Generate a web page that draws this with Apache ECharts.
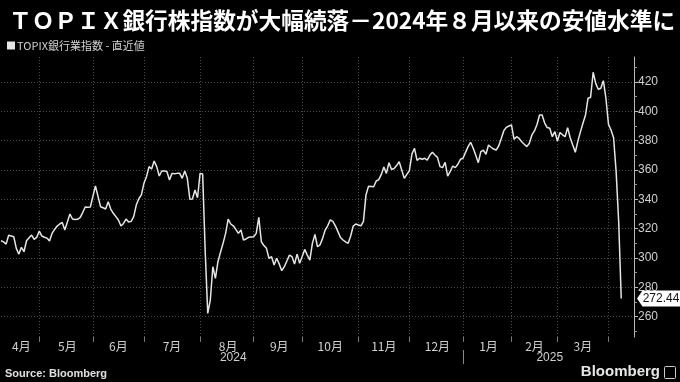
<!DOCTYPE html>
<html>
<head>
<meta charset="utf-8">
<script src="https://cdn.jsdelivr.net/npm/echarts@6/dist/echarts.min.js"></script>
<style>
html,body{margin:0;padding:0;background:#000;}
#c{width:680px;height:382px;}
</style>
</head>
<body>
<div id="c"></div>
<script>
// ---- data ----
const titleText = 'ＴＯＰＩＸ銀行株指数が大幅続落－2024年８月以来の安値水準に';
const seriesName = 'TOPIX銀行業指数 - 直近値';
const firstDay = '2024-04-08';
const lastDay = '2025-04-14';
const holidays = ['2024-04-29','2024-05-03','2024-05-06','2024-07-15','2024-08-12','2024-09-16','2024-09-23',
  '2024-10-14','2024-11-04','2024-12-31','2025-01-01','2025-01-02','2025-01-03','2025-01-13','2025-02-11',
  '2025-02-24','2025-03-20'];
const values = [
 311.8,311.0,309.5,315.5,315.0,314.5,306.6,302.7,307.3,304.3,
 311.8,313.8,315.7,312.7,314.1,318.4,315.0,314.2,313.6,311.6,
 316.8,319.5,321.8,323.2,324.3,319.1,324.5,330.0,326.6,326.2,
 326.4,327.5,331.0,334.8,334.6,334.8,342.0,349.1,342.0,335.0,
 334.3,333.4,338.4,333.4,330.5,328.2,325.9,321.8,323.6,326.6,
 324.5,325.0,328.2,336.1,340.4,343.0,350.9,355.4,362.3,360.7,
 366.1,362.3,355.9,359.3,359.3,359.0,353.2,357.7,357.5,357.7,
 357.7,354.3,359.3,354.3,340.0,340.2,346.4,341.1,357.7,357.3,
 305.0,262.3,271.4,294.1,286.2,297.5,304.0,310.0,316.8,326.6,
 323.2,322.0,319.5,316.8,319.1,312.3,313.0,314.1,314.3,314.5,
 316.8,327.7,311.1,308.5,306.6,299.8,300.9,295.2,299.8,296.0,
 291.4,294.1,298.0,302.0,300.9,295.9,302.7,296.4,301.0,305.9,
 302.0,298.6,310.0,316.1,307.7,309.0,313.4,319.1,322.0,326.0,
 325.0,322.0,318.0,314.0,312.3,311.0,310.0,315.0,321.8,323.2,
 322.5,322.0,325.0,343.0,349.0,348.8,348.6,352.5,353.4,357.0,
 362.0,357.7,365.0,360.3,361.0,363.0,365.7,360.0,354.3,357.0,
 359.5,371.0,374.8,366.5,368.0,367.3,368.0,366.8,370.0,372.1,
 370.2,368.6,362.3,361.6,365.2,355.9,359.0,362.7,361.6,363.9,
 367.3,368.0,372.0,375.9,378.9,374.8,370.0,365.0,372.5,373.6,
 370.7,377.0,375.5,374.3,373.6,376.4,381.5,386.8,389.1,390.0,
 390.7,380.9,382.7,381.5,379.3,377.5,375.9,378.2,383.9,386.6,
 391.0,397.5,397.5,392.0,388.9,388.4,382.7,386.1,379.8,385.5,
 384.0,382.7,388.9,382.0,377.0,372.1,379.5,386.0,391.9,397.5,
 408.9,409.6,426.6,419.0,415.0,415.7,420.9,408.9,391.2,387.3,
 382.0,358.9,324.8,272.44
];
const yLabels = [260,280,300,320,340,360,380,400,420];
const yMinorTicks = [250,270,290,310,330,350,370,390,410,430];
const yMin = 246.2, yMax = 437.0;
const sourceText = 'Source: Bloomberg';
const brandText = 'Bloomberg';

// ---- build categories (trading days) ----
function fmt(d){const m=d.getMonth()+1, dd=d.getDate();return d.getFullYear()+'-'+(m<10?'0':'')+m+'-'+(dd<10?'0':'')+dd;}
const categories = [];
(function(){
  const d = new Date(firstDay+'T00:00:00');
  const end = new Date(lastDay+'T00:00:00');
  while (d <= end) {
    const wd = d.getDay(); const s = fmt(d);
    if (wd !== 0 && wd !== 6 && holidays.indexOf(s) < 0) categories.push(s);
    d.setDate(d.getDate()+1);
  }
})();
const seriesData = categories.map((c,i)=> i < values.length ? values[i] : null);

// month boundary ticks: last trading day of each month
const monthKey = c => c.slice(0,7);
const boundary = new Set();
for (let i=0;i<categories.length-1;i++) if (monthKey(categories[i])!==monthKey(categories[i+1])) boundary.add(i);
// month label positions
const monthLabelIdx = new Set();
(function(){
  let start=0;
  for (let i=0;i<=categories.length;i++){
    if (i===categories.length || monthKey(categories[i])!==monthKey(categories[start])){
      const a=start, b=i-1;
      if (b-a+1 >= 13){
        const left = a===0 ? 0 : a-1;
        monthLabelIdx.add(Math.round((left+b)/2));
      }
      start=i;
    }
  }
})();
// year divider and labels
let yearBoundary = -1;
for (let i=0;i<categories.length-1;i++) if (categories[i].slice(0,4)!==categories[i+1].slice(0,4)) yearBoundary=i;
const yearLabelIdx = new Set([Math.round(yearBoundary/2), Math.round((yearBoundary+categories.length-1)/2)]);

const lastIdx = values.length-1;
const lastVal = values[lastIdx];

const chart = echarts.init(document.getElementById('c'), null, {renderer:'canvas'});
const gridColor = '#4a4a4a';
chart.setOption({
  backgroundColor:'#000',
  animation:false,
  title:{
    text:titleText, left:4, top:4,
    textStyle:{color:'#fff', fontSize:22.7, fontWeight:'bold', fontFamily:'"Noto Sans CJK JP", sans-serif'}
  },
  legend:{
    left:2, top:35, icon:'rect', itemWidth:8, itemHeight:8, itemGap:4,
    textStyle:{color:'#d0d0d0', fontSize:11, fontFamily:'"Noto Sans CJK JP", sans-serif', padding:[0,0,0,-3]},
    data:[seriesName]
  },
  grid:{left:1, right:46, top:57, bottom:45, containLabel:false},
  xAxis:[{
    type:'category', data:categories, boundaryGap:false,
    axisLine:{show:false},
    axisTick:{show:true, length:5, interval:(i)=>boundary.has(i), lineStyle:{color:'#777'}},
    splitLine:{show:true, interval:(i)=>boundary.has(i), lineStyle:{color:gridColor, type:[1,2], width:1}},
    axisLabel:{interval:(i)=>monthLabelIdx.has(i), formatter:(v)=>parseInt(v.slice(5,7),10)+'月',
      color:'#d0d0d0', fontSize:12, margin:3, fontFamily:'"Noto Sans CJK JP", sans-serif', hideOverlap:false}
  },{
    type:'category', data:categories, boundaryGap:false, position:'bottom', offset:13,
    axisLine:{show:false},
    axisTick:{show:true, length:14, interval:(i)=>i===yearBoundary, lineStyle:{color:'#888'}},
    splitLine:{show:false},
    axisLabel:{interval:(i)=>yearLabelIdx.has(i), formatter:(v)=>v.slice(0,4),
      color:'#d0d0d0', fontSize:12, margin:2, fontFamily:'"Liberation Sans", sans-serif', hideOverlap:false}
  }],
  yAxis:[{
    type:'value', position:'right', min:yMin, max:yMax,
    axisLine:{show:true, lineStyle:{color:'#bbb', width:1}},
    axisTick:{show:true, length:4, customValues:yLabels, lineStyle:{color:'#bbb'}},
    axisLabel:{customValues:yLabels, color:'#d0d0d0', fontSize:12, margin:4, fontFamily:'"Liberation Sans", sans-serif'},
    splitLine:{show:true, lineStyle:{color:gridColor, type:[1,2], width:1}}
  },{
    type:'value', position:'right', min:yMin, max:yMax,
    axisLine:{show:false},
    axisTick:{show:true, length:3, customValues:yMinorTicks, lineStyle:{color:'#999'}},
    axisLabel:{show:false}, splitLine:{show:false}
  }],
  series:[{
    name:seriesName, type:'line', data:seriesData, showSymbol:false, symbol:'none',
    lineStyle:{color:'#e6e6e6', width:1.5}, itemStyle:{color:'#e6e6e6'},
    markPoint:{
      symbol:'path://M0,8 L6,0 L48,0 L48,16 L6,16 Z', symbolSize:[44,16], symbolKeepAspect:false,
      symbolOffset:[25,0], silent:true,
      itemStyle:{color:'#fff'},
      label:{show:true, position:'inside', formatter:String(lastVal), color:'#111', fontSize:12, offset:[2,0],
        fontFamily:'"Liberation Sans", sans-serif'},
      data:[{coord:[categories[categories.length-1], lastVal], value:lastVal}]
    }
  }],
  graphic:[
    {type:'text', left:5, top:368, style:{text:sourceText, fill:'#e0e0e0', font:'bold 11px "Liberation Sans", sans-serif'}},
    {type:'text', right:20, top:364, style:{text:brandText, fill:'#e6e6e6', font:'bold 15px "Liberation Sans", sans-serif'}},
    {type:'rect', right:4, top:366, shape:{width:11, height:12, r:1}, style:{fill:'#000', stroke:'#ccc', lineWidth:1}}
  ]
});
</script>
</body>
</html>
